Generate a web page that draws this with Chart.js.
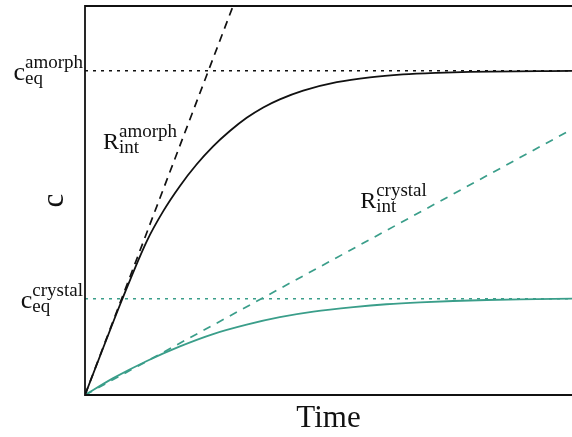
<!DOCTYPE html>
<html>
<head>
<meta charset="utf-8">
<script src="https://cdn.jsdelivr.net/npm/chart.js@4.4.1/dist/chart.umd.min.js"></script>
<style>
  html, body { margin: 0; padding: 0; background: #fff; overflow: hidden; }
  #wrap { width: 572px; height: 437px; }
</style>
</head>
<body>
<div id="wrap"><canvas id="chart"></canvas></div>
<script>
// values (time in arbitrary units 0..10, c relative to c_eq amorph)
var timeAmorph = [0, 0.38, 0.75, 1.27, 1.61, 1.95, 2.29, 2.63, 2.98, 3.32, 3.66, 4.0, 4.48, 5.17, 5.85, 6.53, 7.22, 7.9, 10];
var cAmorph    = [0, 0.148, 0.290, 0.475, 0.568, 0.645, 0.711, 0.767, 0.815, 0.855, 0.887, 0.912, 0.939, 0.965, 0.980, 0.989, 0.994, 0.997, 1.0];

var timeCrystal = [0, 0.58, 1.27, 1.95, 2.63, 3.32, 4.0, 4.69, 5.51, 6.19, 6.88, 7.56, 8.25, 8.93, 10];
var cCrystal    = [0, 0.052, 0.105, 0.150, 0.188, 0.217, 0.240, 0.257, 0.271, 0.280, 0.286, 0.290, 0.293, 0.295, 0.297];

// initial-rate lines and equilibrium levels
var tangentAmorphT = [0, 3.04];
var tangentAmorphC = [0, 1.2];
var tangentCrystalT = [0, 10];
var tangentCrystalC = [0, 0.82];

var ceqAmorph = 1.0;
var ceqCrystal = 0.297;

var black = '#111111';
var teal = '#3a9e8a';

function pts(xs, ys) {
  return xs.map(function (x, i) { return { x: x, y: ys[i] }; });
}

var serif = '"Liberation Serif", "DejaVu Serif", serif';

// labels with superscripts and subscripts
function drawScript(ctx, x, y, main, sup, sub, mainSize, smallSize, align) {
  ctx.font = mainSize + 'px ' + serif;
  var mw = ctx.measureText(main).width;
  ctx.font = smallSize + 'px ' + serif;
  var sw = Math.max(ctx.measureText(sup).width, ctx.measureText(sub).width);
  var x0 = align === 'right' ? x - mw - sw : x;
  ctx.fillStyle = '#111';
  ctx.textBaseline = 'alphabetic';
  ctx.textAlign = 'left';
  ctx.font = mainSize + 'px ' + serif;
  ctx.fillText(main, x0, y);
  ctx.font = smallSize + 'px ' + serif;
  ctx.fillText(sup, x0 + mw, y - 12);
  ctx.fillText(sub, x0 + mw, y + 4);
}

var framePlugin = {
  id: 'frame',
  afterDraw: function (chart) {
    var ctx = chart.ctx;
    var a = chart.chartArea;
    var xs = chart.scales.x, ys = chart.scales.y;
    ctx.save();
    ctx.strokeStyle = black;
    ctx.lineWidth = 1.8;
    ctx.beginPath();
    ctx.moveTo(a.right + 2, a.top);
    ctx.lineTo(a.left, a.top);
    ctx.lineTo(a.left, a.bottom);
    ctx.lineTo(a.right + 2, a.bottom);
    ctx.stroke();

    drawScript(ctx, a.left - 2, ys.getPixelForValue(ceqAmorph) + 9, 'c', 'amorph', 'eq', 26, 19, 'right');
    drawScript(ctx, a.left - 2, ys.getPixelForValue(ceqCrystal) + 9, 'c', 'crystal', 'eq', 26, 19, 'right');
    drawScript(ctx, xs.getPixelForValue(0.37), ys.getPixelForValue(0.76), 'R', 'amorph', 'int', 24, 19, 'left');
    drawScript(ctx, xs.getPixelForValue(5.65), ys.getPixelForValue(0.576), 'R', 'crystal', 'int', 24, 19, 'left');
    ctx.restore();
  }
};

var ctx = document.getElementById('chart').getContext('2d');
new Chart(ctx, {
  type: 'scatter',
  data: {
    datasets: [
      { data: pts(timeAmorph, cAmorph), borderColor: black, borderWidth: 1.8 },
      { data: pts(timeCrystal, cCrystal), borderColor: teal, borderWidth: 1.8 },
      { data: pts(tangentAmorphT, tangentAmorphC), borderColor: black, borderWidth: 1.7, borderDash: [8, 6], cubicInterpolationMode: 'default', tension: 0 },
      { data: pts(tangentCrystalT, tangentCrystalC), borderColor: teal, borderWidth: 1.7, borderDash: [8, 7], cubicInterpolationMode: 'default', tension: 0 },
      { data: pts([0, 10], [ceqAmorph, ceqAmorph]), borderColor: black, borderWidth: 1.5, borderDash: [3, 5], cubicInterpolationMode: 'default', tension: 0 },
      { data: pts([0, 10], [ceqCrystal, ceqCrystal]), borderColor: teal, borderWidth: 1.5, borderDash: [3, 5], cubicInterpolationMode: 'default', tension: 0 }
    ]
  },
  options: {
    responsive: true,
    maintainAspectRatio: false,
    animation: false,
    layout: { padding: { top: 6, right: 0, bottom: 0, left: 0 } },
    datasets: {
      scatter: { showLine: true, pointRadius: 0, fill: false, cubicInterpolationMode: 'monotone' }
    },
    plugins: { legend: { display: false }, tooltip: { enabled: false } },
    scales: {
      x: {
        type: 'linear', min: 0, max: 10,
        grid: { display: false, drawTicks: false },
        border: { display: false },
        ticks: { display: false },
        title: { display: true, text: 'Time', color: '#111', font: { family: serif, size: 31 }, padding: { top: 0, bottom: 0 } },
        afterFit: function (s) { s.height = 42; }
      },
      y: {
        min: 0, max: 1.2,
        grid: { display: false, drawTicks: false },
        border: { display: false },
        ticks: { display: false },
        title: { display: true, text: 'c', color: '#111', font: { family: serif, size: 31 }, padding: { top: 36, bottom: 0 } },
        afterFit: function (s) { s.width = 85; }
      }
    }
  },
  plugins: [framePlugin]
});
</script>
</body>
</html>
